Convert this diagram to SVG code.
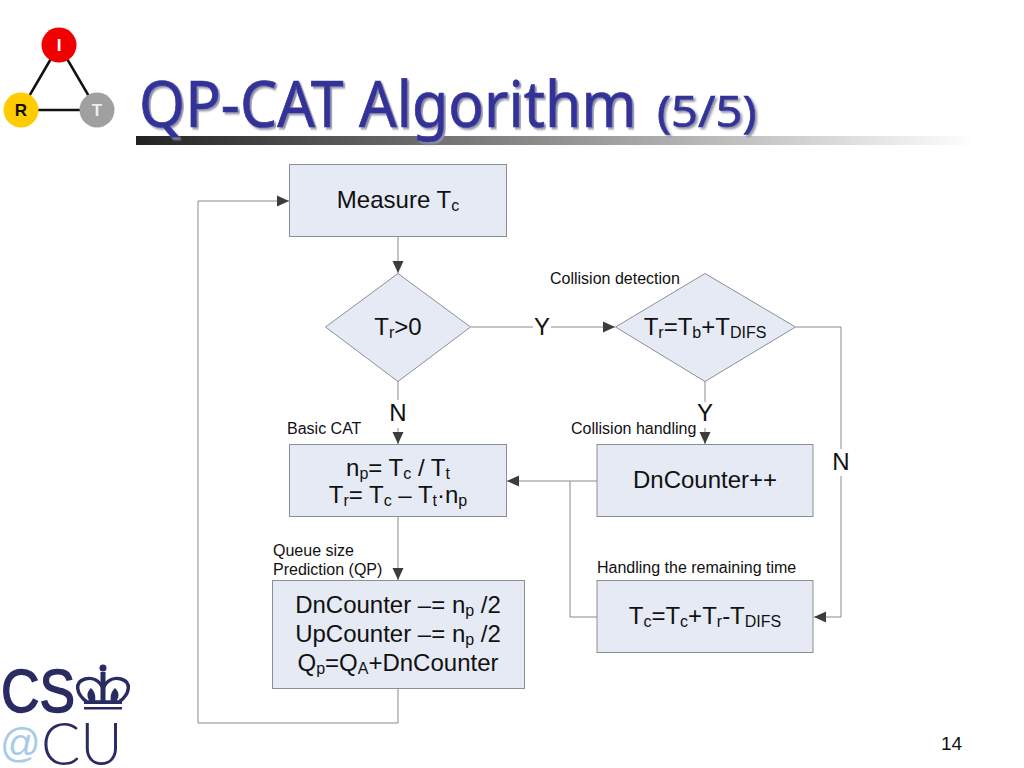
<svg xmlns="http://www.w3.org/2000/svg" width="1024" height="768" viewBox="0 0 1024 768">
<style>
text{font-family:"Liberation Sans",Arial,sans-serif;fill:#111}
.n{fill:#e6eaf5;stroke:#8b8f98;stroke-width:1}
.c{fill:none;stroke:#8a8a8a;stroke-width:1}
.t{font-size:24px;text-anchor:middle}
.l{font-size:24px;text-anchor:middle}
.s{font-size:16px}
.sub{font-size:16px}
.title{font-family:"Noto Sans","Open Sans",sans-serif;fill:#333399;stroke:#333399;stroke-width:.7}
</style>
<defs>
<marker id="a" markerUnits="userSpaceOnUse" markerWidth="13" markerHeight="12" refX="12" refY="6" orient="auto"><path d="M0,0.500 L12,6 L0,11.500 Z" fill="#3c3c3c"/></marker>
<linearGradient id="bar"><stop offset="0" stop-color="#222"/><stop offset="1" stop-color="#fff"/></linearGradient>
<filter id="sh" x="-5%" y="-5%" width="110%" height="115%"><feDropShadow dx="2" dy="2" stdDeviation="0.8" flood-color="#8f8fa8"/></filter>
</defs>
<rect width="1024" height="768" fill="#fff"/>
<g id="logo-top">
<path d="M59,45 L21,110 H97 Z" fill="none" stroke="#111" stroke-width="2.500"/>
<circle cx="59" cy="45" r="17.500" fill="#f00000"/>
<circle cx="21" cy="110" r="17.500" fill="#ffcc00"/>
<circle cx="97" cy="110" r="17.500" fill="#a0a0a0"/>
<text x="59" y="51" font-size="17" font-weight="bold" text-anchor="middle" style="fill:#fff">I</text>
<text x="21" y="116" font-size="17" font-weight="bold" text-anchor="middle">R</text>
<text x="97" y="116" font-size="17" font-weight="bold" text-anchor="middle" style="fill:#eee">T</text>
</g>
<g id="title">
<rect x="136" y="136" width="840" height="9" fill="url(#bar)"/>
<text class="title" transform="translate(139,127) scale(.923,1)" font-size="64" filter="url(#sh)">QP-CAT Algorithm</text>
<text class="title" transform="translate(657,127) scale(1.07,1)" font-size="44" filter="url(#sh)">(5/5)</text>
</g>
<g id="logo-bottom">
<text transform="translate(1,712) scale(.86,1)" font-size="62" style="fill:#2b2b63;stroke:#2b2b63;stroke-width:1.500">CS</text>
<g id="crown">
<path d="M87,702 C76,694 74,682 85,679 C92,677 99,680 103,688 C107,680 114,677 121,679 C132,682 130,694 119,702 Z" fill="none" stroke="#2b2b63" stroke-width="3.500"/>
<path d="M103,672 V702" stroke="#2b2b63" stroke-width="5"/>
<path d="M90,702 C86,696 87,692 91,688 C95,692 96,696 95,702 Z M116,702 C120,696 119,692 115,688 C111,692 110,696 111,702 Z" fill="#2b2b63"/>
<circle cx="103" cy="668" r="3.500" fill="#2b2b63"/>
<rect x="84" y="701" width="38" height="3" fill="#2b2b63"/>
<rect x="84" y="707" width="38" height="2.500" fill="#2b2b63"/>
</g>
<text x="0" y="757" font-size="40" style="fill:#a8cbe8">@</text>
<text transform="translate(41,765) scale(.97,1)" font-size="60" font-weight="300" style="font-family:Lato,'Liberation Sans',sans-serif;fill:#2b2b63">CU</text>
</g>
<g id="connectors">
<path class="c" d="M398,237 V273" marker-end="url(#a)"/>
<path class="c" d="M471,327 H533"/>
<path class="c" d="M551,327 H615" marker-end="url(#a)"/>
<path class="c" d="M398,381 V400"/>
<path class="c" d="M398,428 V444" marker-end="url(#a)"/>
<path class="c" d="M705,381 V402"/>
<path class="c" d="M705,428 V444" marker-end="url(#a)"/>
<path class="c" d="M796,327 H841 V449"/>
<path class="c" d="M841,476 V617 H814" marker-end="url(#a)"/>
<path class="c" d="M597,481 H507" marker-end="url(#a)"/>
<path class="c" d="M597,617 H570 V481"/>
<path class="c" d="M398,517 V580" marker-end="url(#a)"/>
<path class="c" d="M398,689 V723 H198 V201 H289" marker-end="url(#a)"/>
</g>
<g id="measure"><rect class="n" x="289.500" y="164.500" width="217" height="72"/>
<text class="t" x="398" y="208">Measure T<tspan class="sub" dy="3">c</tspan></text></g>
<g id="tr-gt-0"><path class="n" d="M398,273.500 L470.500,327 L398,381.500 L325.500,327 Z"/>
<text class="t" x="398" y="335">T<tspan class="sub" dy="3">r</tspan><tspan dy="-3">&gt;0</tspan></text></g>
<g id="collision-detect"><path class="n" d="M705,273.500 L795.500,327 L705,381.500 L615.500,327 Z"/>
<text class="t" x="705" y="335">T<tspan class="sub" dy="3">r</tspan><tspan dy="-3">=T</tspan><tspan class="sub" dy="3">b</tspan><tspan dy="-3">+T</tspan><tspan class="sub" dy="3">DIFS</tspan></text></g>
<g id="basic-cat"><rect class="n" x="289.500" y="444.500" width="217" height="72"/>
<text class="t" x="398" y="476">n<tspan class="sub" dy="3">p</tspan><tspan dy="-3">= T</tspan><tspan class="sub" dy="3">c</tspan><tspan dy="-3"> / T</tspan><tspan class="sub" dy="3">t</tspan></text>
<text class="t" x="398" y="503">T<tspan class="sub" dy="3">r</tspan><tspan dy="-3">= T</tspan><tspan class="sub" dy="3">c</tspan><tspan dy="-3"> – T</tspan><tspan class="sub" dy="3">t</tspan><tspan dy="-3">·n</tspan><tspan class="sub" dy="3">p</tspan></text></g>
<g id="dncounter"><rect class="n" x="597" y="444.500" width="216" height="72"/>
<text class="t" x="705" y="488">DnCounter++</text></g>
<g id="remaining"><rect class="n" x="597" y="580.500" width="216" height="72"/>
<text class="t" x="705" y="624">T<tspan class="sub" dy="3">c</tspan><tspan dy="-3">=T</tspan><tspan class="sub" dy="3">c</tspan><tspan dy="-3">+T</tspan><tspan class="sub" dy="3">r</tspan><tspan dy="-3">-T</tspan><tspan class="sub" dy="3">DIFS</tspan></text></g>
<g id="queue"><rect class="n" x="272.500" y="580.500" width="252" height="108"/>
<text class="t" x="398" y="613">DnCounter –= n<tspan class="sub" dy="3">p</tspan><tspan dy="-3"> /2</tspan></text>
<text class="t" x="398" y="642">UpCounter –= n<tspan class="sub" dy="3">p</tspan><tspan dy="-3"> /2</tspan></text>
<text class="t" x="398" y="671">Q<tspan class="sub" dy="3">p</tspan><tspan dy="-3">=Q</tspan><tspan class="sub" dy="3">A</tspan><tspan dy="-3">+DnCounter</tspan></text></g>
<g id="labels">
<text class="l" x="542" y="335">Y</text>
<text class="l" x="398" y="421">N</text>
<text class="l" x="705" y="421">Y</text>
<text class="l" x="841" y="470">N</text>
<text class="s" x="550" y="284">Collision detection</text>
<text class="s" x="287" y="434">Basic CAT</text>
<text class="s" x="571" y="434">Collision handling</text>
<text class="s" x="273" y="556">Queue size</text>
<text class="s" x="273" y="575">Prediction (QP)</text>
<text class="s" x="597" y="573">Handling the remaining time</text>
<text x="941" y="750" font-size="19">14</text>
</g>
</svg>
